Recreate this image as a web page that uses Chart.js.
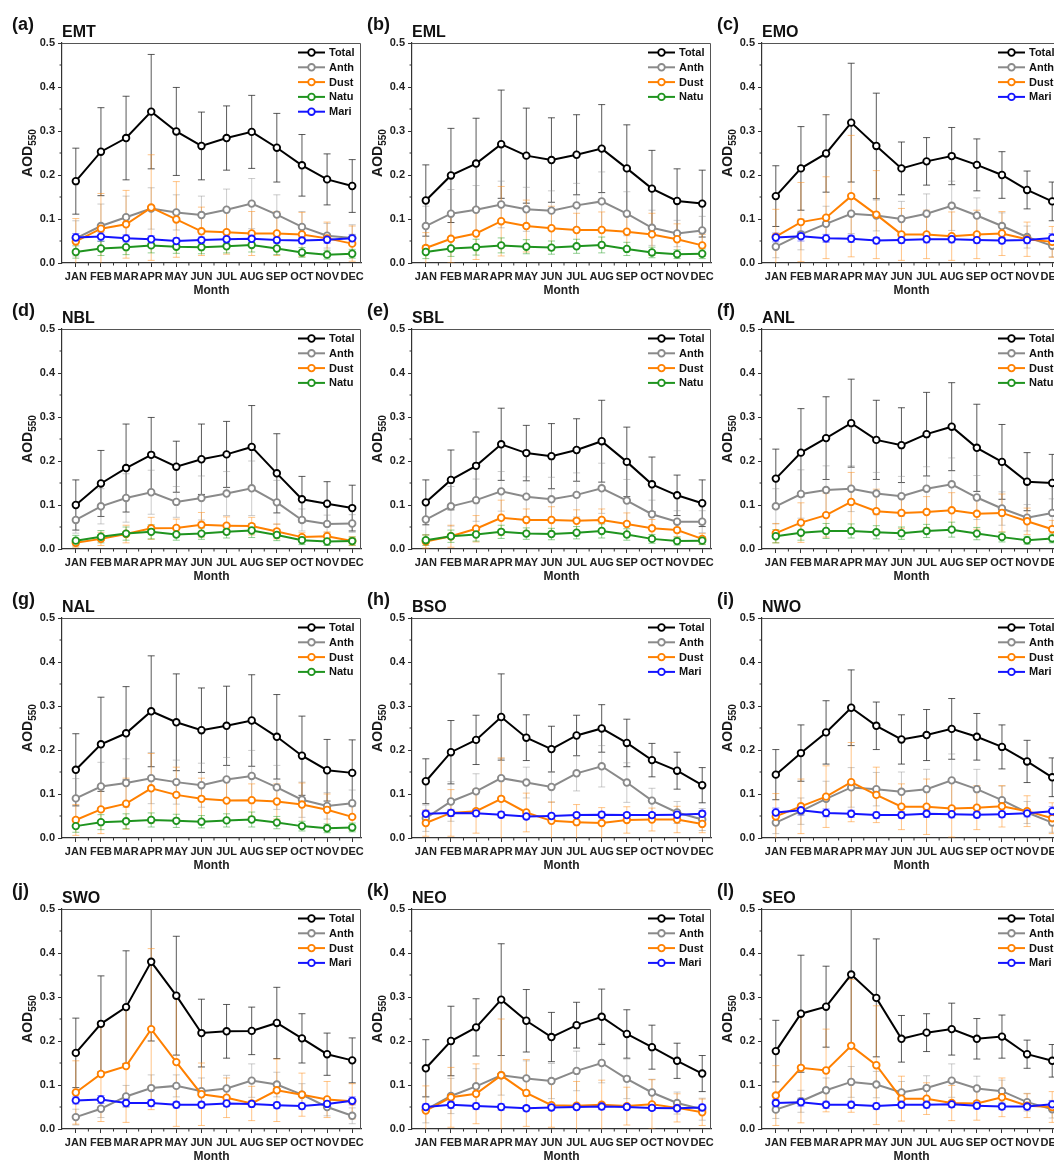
<!DOCTYPE html>
<html>
<head>
<meta charset="utf-8">
<script src="https://cdn.jsdelivr.net/npm/chart.js@4.4.1/dist/chart.umd.min.js"></script>
<style>
html, body { margin: 0; padding: 0; background: #fff; overflow: hidden; }
#wrap { position: relative; width: 1054px; height: 1165px; overflow: hidden; }
#wrap canvas { position: absolute; }
</style>
</head>
<body>
<div id="wrap"></div>
<script>
const months = ['JAN', 'FEB', 'MAR', 'APR', 'MAY', 'JUN', 'JUL', 'AUG', 'SEP', 'OCT', 'NOV', 'DEC'];
const yTicks = [0, 0.1, 0.2, 0.3, 0.4, 0.5];

// (a) EMT
const EMT_Total = [0.186, 0.253, 0.284, 0.344, 0.299, 0.266, 0.284, 0.298, 0.262, 0.222, 0.190, 0.175];
const EMT_Total_sd = [0.075, 0.100, 0.095, 0.130, 0.100, 0.077, 0.073, 0.083, 0.078, 0.070, 0.058, 0.060];
const EMT_Anth = [0.056, 0.084, 0.104, 0.124, 0.115, 0.109, 0.121, 0.135, 0.110, 0.082, 0.062, 0.057];
const EMT_Anth_sd = [0.040, 0.050, 0.048, 0.047, 0.040, 0.043, 0.047, 0.057, 0.045, 0.035, 0.028, 0.030];
const EMT_Dust = [0.049, 0.078, 0.088, 0.126, 0.099, 0.072, 0.070, 0.067, 0.067, 0.065, 0.056, 0.044];
const EMT_Dust_sd = [0.052, 0.080, 0.077, 0.120, 0.086, 0.055, 0.050, 0.050, 0.050, 0.050, 0.037, 0.040];
const EMT_Natu = [0.025, 0.033, 0.036, 0.040, 0.037, 0.036, 0.038, 0.041, 0.033, 0.024, 0.019, 0.021];
const EMT_Natu_sd = [0.014, 0.016, 0.017, 0.017, 0.015, 0.015, 0.015, 0.016, 0.014, 0.011, 0.010, 0.010];
const EMT_Mari = [0.058, 0.060, 0.056, 0.054, 0.050, 0.052, 0.054, 0.055, 0.052, 0.051, 0.053, 0.056];
const EMT_Mari_sd = [0.009, 0.010, 0.008, 0.008, 0.007, 0.007, 0.007, 0.008, 0.007, 0.007, 0.008, 0.009];

// (b) EML
const EML_Total = [0.142, 0.199, 0.226, 0.270, 0.244, 0.234, 0.246, 0.260, 0.215, 0.169, 0.141, 0.135];
const EML_Total_sd = [0.081, 0.107, 0.103, 0.123, 0.108, 0.096, 0.091, 0.100, 0.099, 0.087, 0.073, 0.076];
const EML_Anth = [0.084, 0.112, 0.121, 0.133, 0.122, 0.119, 0.131, 0.140, 0.112, 0.080, 0.067, 0.074];
const EML_Anth_sd = [0.045, 0.055, 0.055, 0.053, 0.050, 0.045, 0.050, 0.067, 0.050, 0.040, 0.030, 0.032];
const EML_Dust = [0.034, 0.055, 0.067, 0.095, 0.084, 0.079, 0.075, 0.075, 0.071, 0.065, 0.054, 0.040];
const EML_Dust_sd = [0.035, 0.055, 0.059, 0.079, 0.059, 0.050, 0.038, 0.041, 0.040, 0.048, 0.035, 0.025];
const EML_Natu = [0.025, 0.033, 0.036, 0.040, 0.037, 0.035, 0.038, 0.041, 0.032, 0.024, 0.020, 0.021];
const EML_Natu_sd = [0.015, 0.018, 0.018, 0.017, 0.016, 0.015, 0.016, 0.018, 0.015, 0.012, 0.010, 0.011];

// (c) EMO
const EMO_Total = [0.152, 0.215, 0.249, 0.319, 0.266, 0.215, 0.231, 0.243, 0.223, 0.200, 0.166, 0.140];
const EMO_Total_sd = [0.069, 0.095, 0.088, 0.135, 0.120, 0.060, 0.054, 0.065, 0.059, 0.053, 0.043, 0.044];
const EMO_Anth = [0.037, 0.065, 0.089, 0.112, 0.108, 0.100, 0.112, 0.130, 0.108, 0.084, 0.059, 0.039];
const EMO_Anth_sd = [0.025, 0.035, 0.040, 0.045, 0.035, 0.040, 0.045, 0.056, 0.040, 0.030, 0.025, 0.025];
const EMO_Dust = [0.060, 0.093, 0.103, 0.152, 0.110, 0.065, 0.065, 0.061, 0.065, 0.067, 0.054, 0.048];
const EMO_Dust_sd = [0.062, 0.090, 0.093, 0.138, 0.100, 0.059, 0.055, 0.055, 0.055, 0.050, 0.039, 0.035];
const EMO_Mari = [0.058, 0.061, 0.056, 0.055, 0.051, 0.052, 0.054, 0.054, 0.052, 0.051, 0.052, 0.057];
const EMO_Mari_sd = [0.010, 0.011, 0.009, 0.008, 0.007, 0.007, 0.008, 0.008, 0.007, 0.007, 0.008, 0.010];

// (d) NBL
const NBL_Total = [0.100, 0.149, 0.184, 0.214, 0.187, 0.204, 0.215, 0.232, 0.172, 0.113, 0.103, 0.093];
const NBL_Total_sd = [0.057, 0.075, 0.100, 0.085, 0.058, 0.080, 0.075, 0.094, 0.090, 0.052, 0.050, 0.052];
const NBL_Anth = [0.066, 0.097, 0.116, 0.129, 0.107, 0.116, 0.126, 0.138, 0.106, 0.066, 0.057, 0.058];
const NBL_Anth_sd = [0.030, 0.040, 0.055, 0.050, 0.035, 0.050, 0.050, 0.062, 0.050, 0.025, 0.020, 0.020];
const NBL_Dust = [0.014, 0.023, 0.034, 0.047, 0.048, 0.055, 0.053, 0.052, 0.040, 0.027, 0.029, 0.018];
const NBL_Dust_sd = [0.010, 0.015, 0.020, 0.025, 0.020, 0.028, 0.020, 0.020, 0.017, 0.010, 0.010, 0.010];
const NBL_Natu = [0.019, 0.028, 0.035, 0.039, 0.033, 0.035, 0.039, 0.042, 0.032, 0.020, 0.017, 0.018];
const NBL_Natu_sd = [0.012, 0.014, 0.015, 0.016, 0.013, 0.013, 0.014, 0.016, 0.013, 0.010, 0.009, 0.009];

// (e) SBL
const SBL_Total = [0.106, 0.157, 0.189, 0.238, 0.218, 0.211, 0.225, 0.245, 0.198, 0.147, 0.122, 0.104];
const SBL_Total_sd = [0.051, 0.068, 0.077, 0.082, 0.063, 0.074, 0.071, 0.093, 0.079, 0.062, 0.046, 0.053];
const SBL_Anth = [0.067, 0.097, 0.111, 0.131, 0.119, 0.113, 0.123, 0.138, 0.110, 0.079, 0.062, 0.062];
const SBL_Anth_sd = [0.035, 0.045, 0.048, 0.045, 0.045, 0.050, 0.050, 0.057, 0.048, 0.032, 0.025, 0.025];
const SBL_Dust = [0.017, 0.029, 0.046, 0.071, 0.066, 0.066, 0.064, 0.066, 0.057, 0.047, 0.043, 0.023];
const SBL_Dust_sd = [0.015, 0.025, 0.030, 0.040, 0.025, 0.030, 0.025, 0.025, 0.025, 0.020, 0.015, 0.012];
const SBL_Natu = [0.020, 0.029, 0.033, 0.039, 0.035, 0.034, 0.037, 0.041, 0.033, 0.023, 0.018, 0.019];
const SBL_Natu_sd = [0.012, 0.014, 0.015, 0.015, 0.013, 0.013, 0.014, 0.016, 0.013, 0.010, 0.009, 0.009];

// (f) ANL
const ANL_Total = [0.160, 0.219, 0.252, 0.286, 0.248, 0.236, 0.261, 0.278, 0.230, 0.198, 0.153, 0.150];
const ANL_Total_sd = [0.067, 0.100, 0.094, 0.100, 0.090, 0.085, 0.095, 0.100, 0.099, 0.085, 0.066, 0.065];
const ANL_Anth = [0.097, 0.125, 0.134, 0.137, 0.126, 0.120, 0.137, 0.147, 0.117, 0.092, 0.071, 0.082];
const ANL_Anth_sd = [0.040, 0.055, 0.055, 0.052, 0.048, 0.045, 0.050, 0.060, 0.050, 0.038, 0.030, 0.032];
const ANL_Dust = [0.036, 0.060, 0.077, 0.107, 0.086, 0.082, 0.084, 0.088, 0.080, 0.082, 0.063, 0.045];
const ANL_Dust_sd = [0.022, 0.045, 0.050, 0.067, 0.050, 0.035, 0.035, 0.040, 0.035, 0.043, 0.030, 0.020];
const ANL_Natu = [0.029, 0.037, 0.041, 0.041, 0.038, 0.036, 0.041, 0.044, 0.035, 0.027, 0.020, 0.024];
const ANL_Natu_sd = [0.015, 0.017, 0.017, 0.016, 0.015, 0.014, 0.015, 0.017, 0.014, 0.011, 0.009, 0.010];

// (g) NAL
const NAL_Total = [0.155, 0.213, 0.238, 0.288, 0.263, 0.245, 0.255, 0.267, 0.230, 0.187, 0.154, 0.148];
const NAL_Total_sd = [0.082, 0.107, 0.106, 0.126, 0.110, 0.096, 0.090, 0.104, 0.096, 0.090, 0.070, 0.075];
const NAL_Anth = [0.090, 0.117, 0.125, 0.136, 0.127, 0.120, 0.133, 0.141, 0.115, 0.087, 0.073, 0.079];
const NAL_Anth_sd = [0.045, 0.055, 0.055, 0.058, 0.050, 0.050, 0.050, 0.058, 0.050, 0.040, 0.030, 0.030];
const NAL_Dust = [0.041, 0.065, 0.078, 0.113, 0.098, 0.089, 0.085, 0.086, 0.083, 0.076, 0.064, 0.048];
const NAL_Dust_sd = [0.035, 0.055, 0.058, 0.079, 0.063, 0.047, 0.045, 0.037, 0.040, 0.049, 0.036, 0.030];
const NAL_Natu = [0.027, 0.036, 0.038, 0.041, 0.039, 0.037, 0.040, 0.042, 0.035, 0.027, 0.022, 0.024];
const NAL_Natu_sd = [0.014, 0.017, 0.017, 0.016, 0.015, 0.014, 0.015, 0.017, 0.014, 0.011, 0.010, 0.010];

// (h) BSO
const BSO_Total = [0.129, 0.195, 0.223, 0.275, 0.228, 0.202, 0.233, 0.249, 0.216, 0.177, 0.153, 0.120];
const BSO_Total_sd = [0.051, 0.072, 0.056, 0.098, 0.052, 0.052, 0.046, 0.054, 0.054, 0.038, 0.042, 0.040];
const BSO_Anth = [0.045, 0.083, 0.106, 0.136, 0.126, 0.116, 0.147, 0.163, 0.126, 0.085, 0.058, 0.042];
const BSO_Anth_sd = [0.030, 0.045, 0.040, 0.045, 0.035, 0.035, 0.040, 0.047, 0.045, 0.028, 0.025, 0.025];
const BSO_Dust = [0.034, 0.057, 0.061, 0.089, 0.058, 0.039, 0.036, 0.034, 0.041, 0.042, 0.042, 0.032];
const BSO_Dust_sd = [0.030, 0.053, 0.050, 0.093, 0.044, 0.043, 0.040, 0.035, 0.030, 0.026, 0.030, 0.020];
const BSO_Mari = [0.055, 0.057, 0.056, 0.053, 0.049, 0.050, 0.052, 0.053, 0.052, 0.052, 0.053, 0.055];
const BSO_Mari_sd = [0.007, 0.008, 0.007, 0.007, 0.006, 0.006, 0.006, 0.007, 0.006, 0.006, 0.007, 0.007];

// (i) NWO
const NWO_Total = [0.144, 0.193, 0.240, 0.296, 0.255, 0.224, 0.234, 0.248, 0.230, 0.207, 0.174, 0.138];
const NWO_Total_sd = [0.057, 0.064, 0.072, 0.086, 0.054, 0.056, 0.058, 0.069, 0.053, 0.050, 0.048, 0.044];
const NWO_Anth = [0.035, 0.061, 0.089, 0.115, 0.111, 0.105, 0.111, 0.131, 0.111, 0.086, 0.058, 0.035];
const NWO_Anth_sd = [0.025, 0.030, 0.040, 0.045, 0.038, 0.045, 0.045, 0.060, 0.045, 0.032, 0.025, 0.022];
const NWO_Dust = [0.049, 0.072, 0.094, 0.127, 0.098, 0.071, 0.071, 0.067, 0.069, 0.072, 0.061, 0.045];
const NWO_Dust_sd = [0.052, 0.062, 0.070, 0.090, 0.063, 0.052, 0.063, 0.065, 0.050, 0.047, 0.035, 0.035];
const NWO_Mari = [0.058, 0.063, 0.057, 0.055, 0.052, 0.052, 0.055, 0.054, 0.053, 0.054, 0.056, 0.061];
const NWO_Mari_sd = [0.010, 0.011, 0.009, 0.008, 0.007, 0.007, 0.008, 0.008, 0.007, 0.007, 0.008, 0.010];

// (j) SWO
const SWO_Total = [0.173, 0.239, 0.277, 0.380, 0.303, 0.218, 0.222, 0.223, 0.241, 0.206, 0.170, 0.156];
const SWO_Total_sd = [0.079, 0.109, 0.128, 0.180, 0.135, 0.077, 0.061, 0.054, 0.081, 0.056, 0.048, 0.051];
const SWO_Anth = [0.027, 0.046, 0.074, 0.093, 0.098, 0.086, 0.092, 0.110, 0.101, 0.078, 0.050, 0.030];
const SWO_Anth_sd = [0.018, 0.020, 0.025, 0.030, 0.025, 0.030, 0.030, 0.038, 0.028, 0.025, 0.020, 0.018];
const SWO_Dust = [0.083, 0.125, 0.143, 0.227, 0.152, 0.079, 0.071, 0.058, 0.088, 0.078, 0.067, 0.063];
const SWO_Dust_sd = [0.072, 0.108, 0.128, 0.183, 0.146, 0.071, 0.045, 0.039, 0.071, 0.049, 0.041, 0.040];
const SWO_Mari = [0.065, 0.067, 0.059, 0.059, 0.055, 0.055, 0.058, 0.057, 0.054, 0.052, 0.057, 0.064];
const SWO_Mari_sd = [0.008, 0.009, 0.008, 0.008, 0.007, 0.007, 0.007, 0.007, 0.007, 0.007, 0.008, 0.009];

// (k) NEO
const NEO_Total = [0.138, 0.200, 0.231, 0.294, 0.246, 0.209, 0.236, 0.255, 0.216, 0.186, 0.155, 0.126];
const NEO_Total_sd = [0.065, 0.079, 0.065, 0.127, 0.071, 0.056, 0.052, 0.063, 0.055, 0.050, 0.040, 0.041];
const NEO_Anth = [0.044, 0.075, 0.097, 0.122, 0.115, 0.109, 0.132, 0.150, 0.114, 0.083, 0.059, 0.045];
const NEO_Anth_sd = [0.030, 0.040, 0.040, 0.045, 0.040, 0.040, 0.045, 0.045, 0.045, 0.030, 0.025, 0.025];
const NEO_Dust = [0.042, 0.072, 0.080, 0.122, 0.082, 0.054, 0.053, 0.055, 0.052, 0.056, 0.048, 0.038];
const NEO_Dust_sd = [0.056, 0.068, 0.068, 0.128, 0.076, 0.050, 0.055, 0.056, 0.043, 0.056, 0.032, 0.030];
const NEO_Mari = [0.050, 0.055, 0.052, 0.050, 0.047, 0.049, 0.050, 0.051, 0.050, 0.048, 0.047, 0.049];
const NEO_Mari_sd = [0.007, 0.008, 0.007, 0.007, 0.006, 0.006, 0.006, 0.007, 0.006, 0.006, 0.006, 0.007];

// (l) SEO
const SEO_Total = [0.177, 0.262, 0.278, 0.351, 0.298, 0.205, 0.219, 0.227, 0.205, 0.210, 0.170, 0.155];
const SEO_Total_sd = [0.070, 0.133, 0.092, 0.160, 0.134, 0.053, 0.043, 0.059, 0.046, 0.049, 0.032, 0.037];
const SEO_Anth = [0.044, 0.063, 0.088, 0.107, 0.101, 0.083, 0.093, 0.110, 0.092, 0.086, 0.061, 0.045];
const SEO_Anth_sd = [0.020, 0.025, 0.028, 0.035, 0.030, 0.025, 0.028, 0.038, 0.028, 0.025, 0.020, 0.020];
const SEO_Dust = [0.076, 0.139, 0.133, 0.189, 0.145, 0.069, 0.069, 0.059, 0.058, 0.072, 0.053, 0.050];
const SEO_Dust_sd = [0.068, 0.125, 0.094, 0.151, 0.135, 0.051, 0.036, 0.040, 0.038, 0.044, 0.027, 0.035];
const SEO_Mari = [0.059, 0.061, 0.055, 0.055, 0.052, 0.055, 0.055, 0.056, 0.053, 0.051, 0.051, 0.056];
const SEO_Mari_sd = [0.008, 0.009, 0.008, 0.008, 0.007, 0.007, 0.007, 0.007, 0.007, 0.007, 0.007, 0.008];

const panels = [
    { tag: '(a)', name: 'EMT', series: [['Total', EMT_Total, EMT_Total_sd], ['Anth', EMT_Anth, EMT_Anth_sd], ['Dust', EMT_Dust, EMT_Dust_sd], ['Natu', EMT_Natu, EMT_Natu_sd], ['Mari', EMT_Mari, EMT_Mari_sd]] },
    { tag: '(b)', name: 'EML', series: [['Total', EML_Total, EML_Total_sd], ['Anth', EML_Anth, EML_Anth_sd], ['Dust', EML_Dust, EML_Dust_sd], ['Natu', EML_Natu, EML_Natu_sd]] },
    { tag: '(c)', name: 'EMO', series: [['Total', EMO_Total, EMO_Total_sd], ['Anth', EMO_Anth, EMO_Anth_sd], ['Dust', EMO_Dust, EMO_Dust_sd], ['Mari', EMO_Mari, EMO_Mari_sd]] },
    { tag: '(d)', name: 'NBL', series: [['Total', NBL_Total, NBL_Total_sd], ['Anth', NBL_Anth, NBL_Anth_sd], ['Dust', NBL_Dust, NBL_Dust_sd], ['Natu', NBL_Natu, NBL_Natu_sd]] },
    { tag: '(e)', name: 'SBL', series: [['Total', SBL_Total, SBL_Total_sd], ['Anth', SBL_Anth, SBL_Anth_sd], ['Dust', SBL_Dust, SBL_Dust_sd], ['Natu', SBL_Natu, SBL_Natu_sd]] },
    { tag: '(f)', name: 'ANL', series: [['Total', ANL_Total, ANL_Total_sd], ['Anth', ANL_Anth, ANL_Anth_sd], ['Dust', ANL_Dust, ANL_Dust_sd], ['Natu', ANL_Natu, ANL_Natu_sd]] },
    { tag: '(g)', name: 'NAL', series: [['Total', NAL_Total, NAL_Total_sd], ['Anth', NAL_Anth, NAL_Anth_sd], ['Dust', NAL_Dust, NAL_Dust_sd], ['Natu', NAL_Natu, NAL_Natu_sd]] },
    { tag: '(h)', name: 'BSO', series: [['Total', BSO_Total, BSO_Total_sd], ['Anth', BSO_Anth, BSO_Anth_sd], ['Dust', BSO_Dust, BSO_Dust_sd], ['Mari', BSO_Mari, BSO_Mari_sd]] },
    { tag: '(i)', name: 'NWO', series: [['Total', NWO_Total, NWO_Total_sd], ['Anth', NWO_Anth, NWO_Anth_sd], ['Dust', NWO_Dust, NWO_Dust_sd], ['Mari', NWO_Mari, NWO_Mari_sd]] },
    { tag: '(j)', name: 'SWO', series: [['Total', SWO_Total, SWO_Total_sd], ['Anth', SWO_Anth, SWO_Anth_sd], ['Dust', SWO_Dust, SWO_Dust_sd], ['Mari', SWO_Mari, SWO_Mari_sd]] },
    { tag: '(k)', name: 'NEO', series: [['Total', NEO_Total, NEO_Total_sd], ['Anth', NEO_Anth, NEO_Anth_sd], ['Dust', NEO_Dust, NEO_Dust_sd], ['Mari', NEO_Mari, NEO_Mari_sd]] },
    { tag: '(l)', name: 'SEO', series: [['Total', SEO_Total, SEO_Total_sd], ['Anth', SEO_Anth, SEO_Anth_sd], ['Dust', SEO_Dust, SEO_Dust_sd], ['Mari', SEO_Mari, SEO_Mari_sd]] }
];

const FONT = "'Liberation Sans', Arial, sans-serif";
const colors = {
    Total: { line: '#000000', err: 'rgba(35,35,35,0.75)' },
    Anth: { line: '#8a8a8a', err: 'rgba(140,140,140,0.45)' },
    Dust: { line: '#ff8000', err: 'rgba(255,140,20,0.5)' },
    Natu: { line: '#1f941f', err: 'rgba(40,160,40,0.5)' },
    Mari: { line: '#1414ff', err: 'rgba(40,40,255,0.5)' }
};

// page placement of each row's plot top
const rowTops = [42.7, 329.3, 618.3, 909.3];
const colStep = 350;

// error bars under the lines
const errorBars = {
    id: 'errorBars',
    beforeDatasetsDraw(chart) {
        const { ctx, chartArea: a, scales: { x, y } } = chart;
        ctx.save();
        ctx.beginPath();
        ctx.rect(a.left, a.top, a.right - a.left, a.bottom - a.top);
        ctx.clip();
        chart.data.datasets.forEach(ds => {
            ctx.strokeStyle = ds.errColor;
            ctx.lineWidth = 1;
            ds.data.forEach((p, i) => {
                const px = x.getPixelForValue(p.x);
                const top = y.getPixelForValue(p.y + ds.sd[i]);
                const bot = y.getPixelForValue(p.y - ds.sd[i]);
                ctx.beginPath();
                ctx.moveTo(px, top); ctx.lineTo(px, bot);
                ctx.moveTo(px - 3.5, top); ctx.lineTo(px + 3.5, top);
                ctx.moveTo(px - 3.5, bot); ctx.lineTo(px + 3.5, bot);
                ctx.stroke();
            });
        });
        ctx.restore();
    }
};

// frame, minor ticks, titles and the inside legend
const decor = {
    id: 'decor',
    afterDraw(chart, args, opts) {
        const { ctx, chartArea: a, scales: { x, y } } = chart;
        ctx.save();
        ctx.strokeStyle = '#555';
        ctx.lineWidth = 1;
        ctx.beginPath();
        ctx.moveTo(a.left, a.top + 0.5);
        ctx.lineTo(a.right - 0.5, a.top + 0.5);
        ctx.lineTo(a.right - 0.5, a.bottom);
        ctx.stroke();

        ctx.strokeStyle = '#333';
        ctx.beginPath();
        for (let i = 1; i < months.length; i++) {
            const px = x.getPixelForValue(i + 0.5);
            ctx.moveTo(px, a.bottom); ctx.lineTo(px, a.bottom + 2.5);
        }
        for (let k = 0; k < yTicks.length - 1; k++) {
            const py = y.getPixelForValue((yTicks[k] + yTicks[k + 1]) / 2);
            ctx.moveTo(a.left - 2.5, py); ctx.lineTo(a.left, py);
        }
        ctx.stroke();

        // AOD550 title with subscript
        ctx.save();
        ctx.translate(27, (a.top + a.bottom) / 2);
        ctx.rotate(-Math.PI / 2);
        ctx.fillStyle = '#1a1a1a';
        ctx.font = 'bold 14px ' + FONT;
        const w1 = ctx.measureText('AOD').width;
        ctx.font = 'bold 10px ' + FONT;
        const w2 = ctx.measureText('550').width;
        const sx = -(w1 + w2) / 2;
        ctx.textAlign = 'left';
        ctx.textBaseline = 'alphabetic';
        ctx.font = 'bold 14px ' + FONT;
        ctx.fillText('AOD', sx, 5);
        ctx.font = 'bold 10px ' + FONT;
        ctx.fillText('550', sx + w1, 9);
        ctx.restore();

        ctx.fillStyle = '#111';
        ctx.textAlign = 'left';
        ctx.textBaseline = 'alphabetic';
        ctx.font = 'bold 18px ' + FONT;
        ctx.fillText(opts.tag, opts.tagX, a.top - 13);
        ctx.font = 'bold 16px ' + FONT;
        ctx.fillText(opts.name, a.left, a.top - 6.5);

        chart.data.datasets.forEach((ds, j) => {
            const ly = a.top + 9.5 + j * 14.8;
            const x0 = a.right - 63, x1 = a.right - 36;
            ctx.strokeStyle = ds.borderColor;
            ctx.lineWidth = 2;
            ctx.beginPath(); ctx.moveTo(x0, ly); ctx.lineTo(x1, ly); ctx.stroke();
            ctx.fillStyle = '#fff';
            ctx.lineWidth = 1.8;
            ctx.beginPath(); ctx.arc((x0 + x1) / 2, ly, 3.3, 0, Math.PI * 2); ctx.fill(); ctx.stroke();
            ctx.fillStyle = '#111';
            ctx.font = 'bold 11px ' + FONT;
            ctx.textBaseline = 'middle';
            ctx.fillText(ds.label, a.right - 32, ly + 0.5);
        });
        ctx.restore();
    }
};

const wrap = document.getElementById('wrap');

panels.forEach((p, k) => {
    const row = Math.floor(k / 3), col = k % 3;
    const canvas = document.createElement('canvas');
    canvas.width = 372;
    canvas.height = 300;
    canvas.style.left = (col * colStep) + 'px';
    canvas.style.top = (rowTops[row] - 42) + 'px';
    canvas.style.width = '372px';
    canvas.style.height = '300px';
    wrap.appendChild(canvas);

    const n = p.series.length;
    const datasets = p.series.map(([label, vals, sd], j) => ({
        label: label,
        data: vals.map((v, i) => ({ x: i + 1, y: v })),
        sd: sd,
        errColor: colors[label].err,
        borderColor: colors[label].line,
        backgroundColor: '#fff',
        borderWidth: 2,
        pointRadius: 3.3,
        pointBorderWidth: 1.8,
        pointBackgroundColor: '#fff',
        pointBorderColor: colors[label].line,
        tension: 0,
        order: n - j
    }));

    new Chart(canvas, {
        type: 'line',
        data: { datasets: datasets },
        plugins: [errorBars, decor],
        options: {
            responsive: false,
            animation: false,
            events: [],
            layout: { padding: { left: 0, top: 42, right: 11, bottom: 0 } },
            plugins: {
                legend: { display: false },
                tooltip: { enabled: false },
                title: { display: false },
                decor: { tag: p.tag, name: p.name, tagX: col === 0 ? 12 : 17 }
            },
            scales: {
                x: {
                    type: 'linear',
                    min: 0.45,
                    max: 12.35,
                    afterBuildTicks: s => { s.ticks = months.map((m, i) => ({ value: i + 1 })); },
                    afterFit: s => { s.height = 38; },
                    grid: { display: true, drawOnChartArea: false, drawTicks: true, tickLength: 4, tickColor: '#333' },
                    border: { display: true, color: '#333', width: 1.2 },
                    ticks: {
                        autoSkip: false,
                        maxRotation: 0,
                        minRotation: 0,
                        padding: 3,
                        color: '#222',
                        font: { family: FONT, size: 11, weight: 'bold' },
                        callback: (v, i) => months[i]
                    },
                    title: {
                        display: true,
                        text: 'Month',
                        color: '#222',
                        font: { family: FONT, size: 12, weight: 'bold' },
                        padding: { top: 0, bottom: 3 }
                    }
                },
                y: {
                    min: yTicks[0],
                    max: yTicks[yTicks.length - 1],
                    afterBuildTicks: s => { s.ticks = yTicks.map(v => ({ value: v })); },
                    afterFit: s => { s.width = 62; },
                    grid: { display: true, drawOnChartArea: false, drawTicks: true, tickLength: 4, tickColor: '#333' },
                    border: { display: true, color: '#333', width: 1.2 },
                    ticks: {
                        padding: 3,
                        color: '#222',
                        font: { family: FONT, size: 11, weight: 'bold' },
                        callback: v => v.toFixed(1)
                    },
                    title: { display: false }
                }
            }
        }
    });
});
</script>
</body>
</html>
